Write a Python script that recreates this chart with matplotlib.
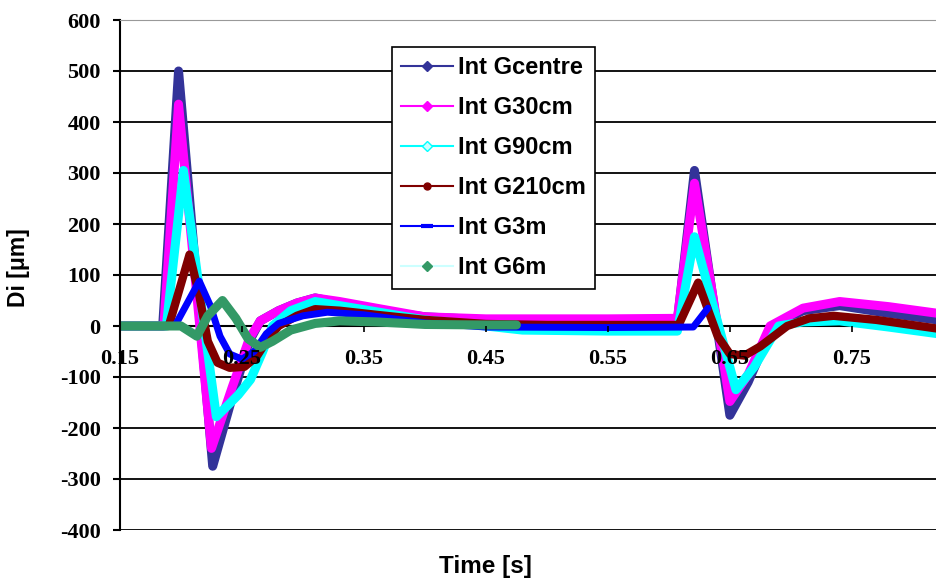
import matplotlib
matplotlib.use('Agg')
import matplotlib.pyplot as plt
from matplotlib.lines import Line2D

plt.rcParams['axes.unicode_minus'] = False

# Series (time in s, displacement in um)
t_centre = [0.15, 0.185, 0.198, 0.226, 0.242, 0.256, 0.265, 0.28, 0.295, 0.31, 0.33, 0.36,
            0.40, 0.45, 0.50, 0.55, 0.607, 0.621, 0.650, 0.665, 0.685, 0.71, 0.74, 0.78, 0.82]
d_centre = [0, 0, 500, -275, -140, -30, 10, 30, 45, 55, 45, 30,
            18, 12, 10, 10, 10, 305, -175, -110, 0, 30, 40, 25, 12]

t_30 = [0.15, 0.186, 0.198, 0.225, 0.242, 0.256, 0.265, 0.28, 0.295, 0.31, 0.33, 0.36,
        0.40, 0.45, 0.50, 0.55, 0.607, 0.621, 0.650, 0.665, 0.683, 0.71, 0.74, 0.78, 0.82]
d_30 = [0, 0, 435, -240, -120, -25, 10, 30, 45, 55, 48, 35,
        18, 14, 14, 14, 15, 280, -148, -95, 0, 35, 48, 38, 25]

t_90 = [0.15, 0.188, 0.202, 0.229, 0.247, 0.257, 0.267, 0.275, 0.29, 0.31, 0.33, 0.36,
        0.40, 0.45, 0.48, 0.55, 0.607, 0.621, 0.655, 0.67, 0.69, 0.71, 0.74, 0.78, 0.82]
d_90 = [0, 0, 305, -178, -135, -105, -50, 0, 30, 48, 40, 28,
        12, 0, -8, -10, -10, 175, -125, -80, 0, 8, 10, -2, -15]

t_210 = [0.15, 0.19, 0.207, 0.215, 0.222, 0.230, 0.240, 0.252, 0.262, 0.270, 0.280, 0.295,
         0.31, 0.33, 0.36, 0.40, 0.45, 0.50, 0.55, 0.608, 0.624, 0.640, 0.650, 0.662, 0.675,
         0.697, 0.715, 0.735, 0.77, 0.82]
d_210 = [0, 0, 140, 60, -30, -72, -82, -80, -60, -30, 0, 20,
         33, 30, 22, 12, 4, 2, 2, 2, 85, -20, -55, -58, -40,
         0, 15, 20, 12, -5]

t_3m = [0.15, 0.195, 0.215, 0.224, 0.232, 0.240, 0.250, 0.260, 0.270, 0.28, 0.30, 0.32,
        0.35, 0.40, 0.45, 0.55, 0.620, 0.632]
d_3m = [0, 0, 88, 40, -20, -55, -65, -50, -15, 5, 20, 27,
        22, 6, -2, -3, -2, 35]

t_6m = [0.15, 0.20, 0.213, 0.222, 0.234, 0.245, 0.255, 0.265, 0.275, 0.29, 0.31, 0.33,
        0.36, 0.40, 0.45, 0.475]
d_6m = [0, 0, -20, 20, 50, 15, -25, -42, -30, -8, 5, 10,
        8, 3, 2, 2]

labels = ['Int Gcentre', 'Int G30cm', 'Int G90cm', 'Int G210cm', 'Int G3m', 'Int G6m']
colors = ['#333399', '#FF00FF', '#00FFFF', '#800000', '#0000FF', '#339966']
x_ticks = [0.15, 0.25, 0.35, 0.45, 0.55, 0.65, 0.75]
y_ticks = [-400, -300, -200, -100, 0, 100, 200, 300, 400, 500, 600]

series = [(t_centre, d_centre), (t_30, d_30), (t_90, d_90),
          (t_210, d_210), (t_3m, d_3m), (t_6m, d_6m)]
widths = [6.5, 6.5, 6.5, 6, 5, 6.5]

fig = plt.figure(figsize=(9.36, 5.83), dpi=100)
ax = fig.add_axes([120 / 936, 53 / 583, 816 / 936, 510 / 583])

# horizontal gridlines under the data
for v in y_ticks[:-1]:
    ax.axhline(v, color='black', lw=1.3, zorder=1)

for (t, d), c, w in zip(series, colors, widths):
    ax.plot(t, d, color=c, lw=w, solid_joinstyle='round', solid_capstyle='round', zorder=2)

ax.set_xlim(0.15, 0.819)
ax.set_ylim(-400, 600)
ax.set_xticks(x_ticks)
ax.set_xticklabels([f'{v:.2f}' for v in x_ticks])
ax.set_yticks(y_ticks)

ax.spines['right'].set_visible(False)
ax.spines['top'].set_color('#999999')
ax.spines['left'].set_linewidth(1.5)
ax.spines['bottom'].set_position(('data', 0))
ax.spines['bottom'].set_linewidth(1.5)
ax.spines['bottom'].set_zorder(1.5)
ax.xaxis.set_zorder(3)

tick_font = dict(family='Liberation Serif', weight='bold', size=16)
ax.tick_params(axis='y', direction='out', length=5, width=1.5, pad=9)
ax.tick_params(axis='x', direction='out', length=4.3, width=1.2, pad=12)
for lab in ax.get_xticklabels() + ax.get_yticklabels():
    lab.set_fontproperties(tick_font)

fig.text(18 / 936, 1 - 268 / 583, 'Di [\u03bcm]', rotation=90, ha='center', va='center',
         family='Liberation Sans', weight='bold', size=16.5)
fig.text(485 / 936, 1 - 567 / 583, 'Time [s]', ha='center', va='center',
         family='Liberation Sans', weight='bold', size=17.5)

handles = [
    Line2D([], [], color='#333399', lw=1.5, marker='D', ms=5, mfc='#333399', mec='#333399'),
    Line2D([], [], color='#FF00FF', lw=1.5, marker='D', ms=5, mfc='#FF00FF', mec='#FF00FF'),
    Line2D([], [], color='#00FFFF', lw=1.5, marker='D', ms=5, mfc='#CCFFFF', mec='#00FFFF'),
    Line2D([], [], color='#800000', lw=1.5, marker='o', ms=5, mfc='#800000', mec='#800000'),
    Line2D([], [], color='#0000FF', lw=1.5, marker='_', ms=9, mew=3, mec='#0000FF'),
    Line2D([], [], color='#CCFFFF', lw=1.5, marker='D', ms=5, mfc='#339966', mec='#339966'),
]
leg = fig.legend(handles, labels, loc='upper left', bbox_to_anchor=(392 / 936, 1 - 47 / 583),
                 borderaxespad=0, frameon=True, fancybox=False, framealpha=1,
                 edgecolor='black', handlelength=2.2, handletextpad=0.2,
                 labelspacing=0.72, borderpad=0.4,
                 prop=dict(family='Liberation Sans', weight='bold', size=17))
leg.get_frame().set_linewidth(1.2)

fig.savefig('out.png', dpi=100)
